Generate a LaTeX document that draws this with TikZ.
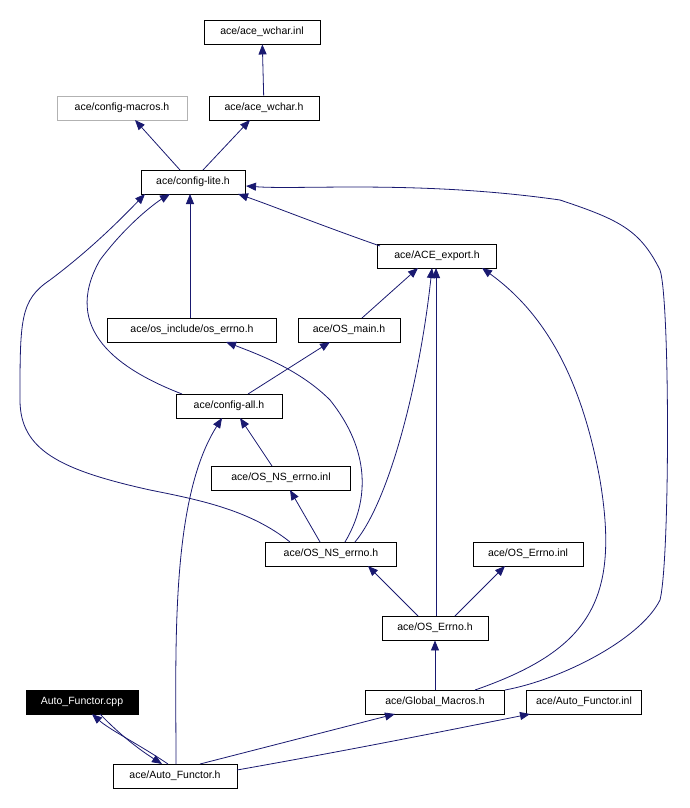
\documentclass[tikz,border=0pt]{standalone}
\usepackage{fontspec}
\setmainfont{Liberation Sans}
\usetikzlibrary{arrows.meta}
\begin{document}
\begin{tikzpicture}[x=1pt,y=-1pt,
  n/.style={draw=black,fill=white,minimum height=24pt,inner sep=0pt,font=\fontsize{10.5}{12}\selectfont,line width=0.9pt},
  e/.style={draw={rgb,255:red,25;green,25;blue,112},line width=0.8pt,-{Triangle[length=10pt,width=8pt]}}]
\useasboundingbox (0,0) rectangle (690,808);
\node[n,minimum width=116pt] (winl) at (262,32) {ace/ace\_wchar.inl};
\node[n,draw=gray!60,minimum width=130pt] (cm) at (122,108) {ace/config-macros.h};
\node[n,minimum width=110pt] (wh) at (264,108) {ace/ace\_wchar.h};
\node[n,minimum width=104pt] (cl) at (193,182) {ace/config-lite.h};
\node[n,minimum width=119pt] (ae) at (437,256) {ace/ACE\_export.h};
\node[n,minimum width=169pt] (oe) at (192,330) {ace/os\_include/os\_errno.h};
\node[n,minimum width=102pt] (om) at (349,330) {ace/OS\_main.h};
\node[n,minimum width=106pt] (ca) at (229,406) {ace/config-all.h};
\node[n,minimum width=139pt] (nsi) at (281,478) {ace/OS\_NS\_errno.inl};
\node[n,minimum width=131pt] (nsh) at (331,554) {ace/OS\_NS\_errno.h};
\node[n,minimum width=110pt] (ei) at (528,554) {ace/OS\_Errno.inl};
\node[n,minimum width=106pt] (eh) at (435,628) {ace/OS\_Errno.h};
\node[n,fill=black,text=white,minimum width=112pt] (cpp) at (82,702) {Auto\_Functor.cpp};
\node[n,minimum width=139pt] (gm) at (435,702) {ace/Global\_Macros.h};
\node[n,minimum width=115pt] (afi) at (584,702) {ace/Auto\_Functor.inl};
\node[n,minimum width=124pt] (afh) at (175,776) {ace/Auto\_Functor.h};
\draw[e] (wh) -- (winl);
\draw[e] (180,170) -- (135,120);
\draw[e] (203,170) -- (250,120);
\draw[e] (380,246) .. controls (320,225) and (270,205) .. (238,194);
\draw[e] (190,318) -- (190,194);
\draw[e] (182,394) .. controls (120,370) and (60,330) .. (100,260) .. controls (130,220) and (160,200) .. (170,194);
\draw[e] (248,394) -- (330,342);
\draw[e] (362,318) -- (418,268);
\draw[e] (272,466) -- (240,418);
\draw[e] (320,542) -- (290,490);
\draw[e] (290,542) .. controls (250,510) and (200,500) .. (150,490) .. controls (60,470) and (20,450) .. (20,400) .. controls (20,320) and (20,300) .. (50,280) .. controls (90,250) and (120,220) .. (145,194);
\draw[e] (345,542) .. controls (370,500) and (370,450) .. (330,400) .. controls (300,370) and (260,355) .. (226,342);
\draw[e] (355,542) .. controls (390,500) and (420,380) .. (432,268);
\draw[e] (418,616) -- (368,566);
\draw[e] (455,616) -- (505,566);
\draw[e] (436,616) -- (436,268);
\draw[e] (gm) -- (eh);
\draw[e] (475,690) .. controls (590,650) and (620,600) .. (600,480) .. controls (580,370) and (540,310) .. (482,268);
\draw[e] (505,690) .. controls (560,680) and (640,640) .. (660,600) .. controls (670,560) and (670,300) .. (660,270) .. controls (640,230) and (620,220) .. (560,200) .. controls (420,180) and (300,190) .. (246,186);
\draw[e] (168,764) .. controls (140,745) and (110,730) .. (92,714);
\draw[e] (100,714) .. controls (120,735) and (140,750) .. (162,764);
\draw[e] (176,764) .. controls (176,650) and (170,500) .. (222,418);
\draw[e] (200,764) -- (395,714);
\draw[e] (237,770) .. controls (350,750) and (450,730) .. (530,714);
\end{tikzpicture}
\end{document}
